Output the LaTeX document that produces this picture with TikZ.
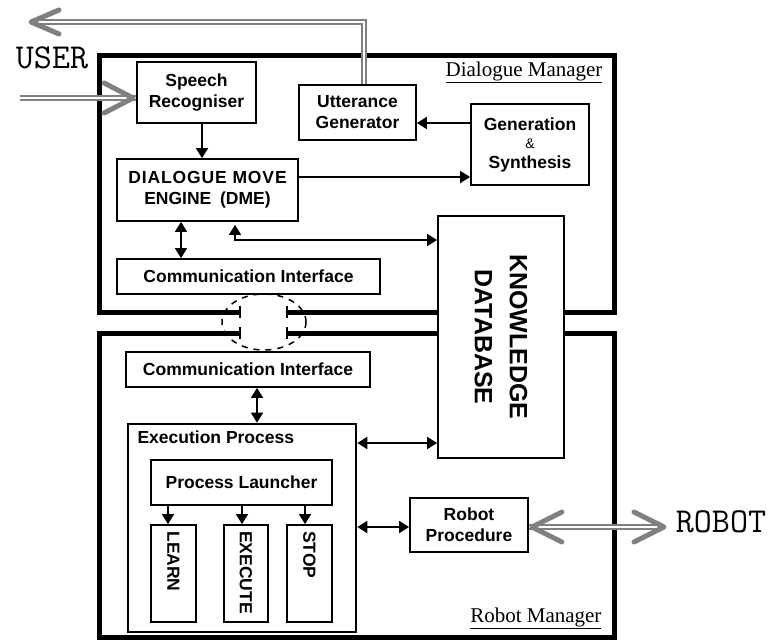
\documentclass[tikz,border=0pt]{standalone}
\usepackage{fontspec}
\setmainfont{Liberation Serif}
\setsansfont{Liberation Sans}
\usepackage{tikz}
\usetikzlibrary{scopes,arrows.meta}

\begin{document}
\begin{tikzpicture}[x=1pt,y=-1pt,
      >={Triangle[length=10pt,width=12pt]},
      blk/.style={draw=black,fill=white,line width=1.8pt,inner sep=0pt,align=center,
                  font=\sffamily\bfseries\fontsize{17.5}{21}\selectfont},
      mgr/.style={line width=5pt},
      link/.style={line width=1.8pt},
      tick/.style={line width=1.5pt},
      dbl/.style={draw=gray,double=white,line width=1.5pt,double distance=2.8pt},
      chev/.style={draw=gray,line width=5pt,line cap=round,line join=round},
      side/.style={rotate=-90,anchor=west,inner sep=0pt,font=\sffamily\bfseries\fontsize{17.5}{20}\selectfont},
      title/.style={font=\rmfamily\fontsize{21}{24}\selectfont},
      ext/.style={font=\ttfamily\fontsize{35}{38}\selectfont}
]
      \useasboundingbox (0,0) rectangle (773,641);

      \draw[mgr] (240,312) -- (99,312) -- (99,55) -- (614,55) -- (614,312) -- (287,312);
      \draw[mgr] (240,333) -- (99,333) -- (99,637) -- (614,637) -- (614,333) -- (287,333);
      \draw[tick] (240,306) -- (240,318) (287,306) -- (287,318);
      \draw[tick] (240,327) -- (240,339) (287,327) -- (287,339);
      \draw[tick,dash pattern=on 6pt off 6pt] (264,322) ellipse [x radius=42pt,y radius=28pt];

      \node[blk,minimum width=119pt,minimum height=61pt] (sr) at (196.5,92.5) {Speech\\Recogniser};
      \node[blk,minimum width=117pt,minimum height=55pt] (ug) at (357.5,112.5) {Utterance\\Generator};
      \node[blk,minimum width=118pt,minimum height=81pt] (gs) at (530,144.5)
            {Generation\\[-3pt]{\fontsize{14}{14}\selectfont\mdseries\&}\\[-1pt]Synthesis};
      \node[blk,minimum width=181pt,minimum height=62pt] (dme) at (207.5,190)
            {\addfontfeature{LetterSpace=5}DIALOGUE MOVE\\ENGINE\enspace(DME)};
      \node[blk,minimum width=263pt,minimum height=35pt] (ci1) at (248.5,276.5) {Communication Interface};
      \node[blk,minimum width=126pt,minimum height=242pt] (kb) at (501,337) {};
      \node[rotate=-90,align=center,font=\sffamily\bfseries\fontsize{25}{35}\selectfont] (kbtext) at (kb.center)
            {KNOWLEDGE\\DATABASE};
      \node[blk,minimum width=244pt,minimum height=35pt] (ci2) at (248,369.5) {Communication Interface};
      \node[blk,line width=2.6pt,minimum width=228pt,minimum height=208pt] (ep) at (242,528) {};
      \node[anchor=base west,font=\sffamily\bfseries\fontsize{17.5}{20}\selectfont] (eptext) at (134,443) {Execution Process};
      \node[blk,minimum width=181pt,minimum height=45pt] (pl) at (241.5,482.5) {Process Launcher};
      \node[blk,minimum width=45pt,minimum height=97pt] (learn) at (173.5,573.5) {};
      \node[blk,minimum width=44pt,minimum height=97pt] (exec) at (246,573.5) {};
      \node[blk,minimum width=45pt,minimum height=97pt] (stop) at (309.5,573.5) {};
      \node[side] at ([yshift=-7pt]learn.north) {LEARN};
      \node[side] at ([yshift=-7pt]exec.north) {EXECUTE};
      \node[side] at ([yshift=-7pt]stop.north) {STOP};
      \node[blk,minimum width=118pt,minimum height=54pt] (rp) at (469,525) {Robot\\Procedure};

      {[link,->]
          \draw (202,0 |- sr.south) -- (202,0 |- dme.north);
          \draw (gs.west |- 0,123) -- (ug.east |- 0,123);
          \draw (dme.east |- 0,177) -- (gs.west |- 0,177);
          \draw (168,0 |- pl.south) -- (168,0 |- learn.north);
          \draw (242,0 |- pl.south) -- (242,0 |- exec.north);
          \draw (305,0 |- pl.south) -- (305,0 |- stop.north);
      }
      {[link,<->]
          \draw (181,0 |- dme.south) -- (181,0 |- ci1.north);
          \draw[shorten <=3pt] (235,0 |- dme.south) |- (kb.west |- 0,240);
          \draw (257,0 |- ci2.south) -- (257,0 |- ep.north);
          \draw (ep.east |- 0,443) -- (kb.west |- 0,443);
          \draw (ep.east |- 0,527) -- (rp.west |- 0,527);
      }

      \coordinate (userout) at (31,22);
      \coordinate (userin) at (20,98);
      \coordinate (robotend) at (664,527);
      \draw[dbl] (364,0 |- ug.north) |- (userout);
      \draw[dbl] (userin) -- (sr.west |- userin);
      \draw[dbl] (rp.east |- robotend) -- (robotend);
      {[chev]
          \draw (userout) ++(28,-12) -- (userout) -- ++(28,12);
          \draw ([xshift=-3pt]sr.west |- userin) ++(-29,-15) -- ++(29,15) -- ++(-29,15);
          \draw ([xshift=3pt]rp.east |- robotend) ++(30,-15) -- ++(-30,15) -- ++(30,15);
          \draw (robotend) ++(-30,-15) -- (robotend) -- ++(-30,15);
      }

      \node[ext] (user) at (52,58) {USER};
      \node[ext] (robot) at (721,522) {ROBOT};
      \node[title,anchor=base east] (dmtitle) at (606,76) {\underline{Dialogue Manager}};
      \node[title,anchor=base east] (rmtitle) at (605,622) {\underline{Robot Manager}};
\end{tikzpicture}
\end{document}
